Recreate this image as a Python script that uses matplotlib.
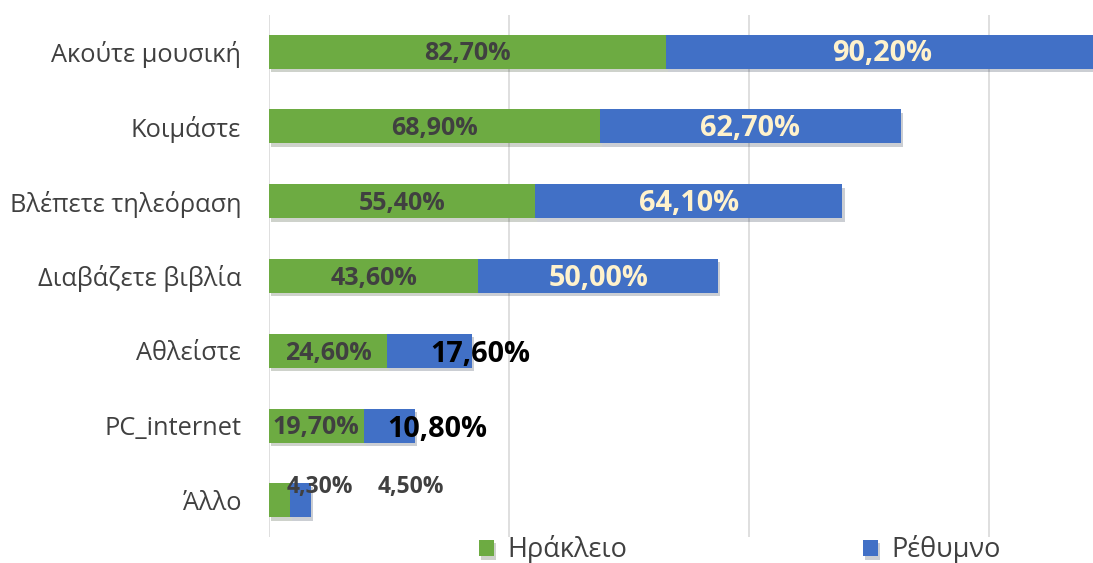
import matplotlib.pyplot as plt
import matplotlib.patheffects as pe
import numpy as np

categories = ["Ακούτε μουσική", "Κοιμάστε", "Βλέπετε τηλεόραση", "Διαβάζετε βιβλία",
              "Αθλείστε", "PC_internet", "Άλλο"]
heraklion = [82.7, 68.9, 55.4, 43.6, 24.6, 19.7, 4.3]
rethymno = [90.2, 62.7, 64.1, 50.0, 17.6, 10.8, 4.5]
series_names = ["Ηράκλειο", "Ρέθυμνο"]


def fmt(v):
    return f"{v:.2f}%".replace(".", ",")


green = "#6dab42"
blue = "#4170c6"
lab_font = "Open Sans"

fig = plt.figure(figsize=(10.93, 5.63), dpi=100)
ax = fig.add_axes([269 / 1093, 26 / 563, 824 / 1093, 522 / 563])

y = np.arange(len(categories))
shadow = [pe.SimplePatchShadow(offset=(1.5, -2.5), alpha=0.22), pe.Normal()]

b1 = ax.barh(y, heraklion, height=0.454, color=green, label=series_names[0],
             zorder=3, path_effects=shadow)
b2 = ax.barh(y, rethymno, left=heraklion, height=0.454, color=blue,
             label=series_names[1], zorder=3, path_effects=shadow)

ax.set_xlim(0, 171.7)
ax.set_ylim(6.49, -0.49)
ax.set_xticks([0, 50, 100, 150])
ax.set_xticklabels([])
ax.xaxis.grid(True, color="#d9d9d9", linewidth=1.2, zorder=0)
ax.tick_params(length=0, pad=20)
ax.set_yticks(y)
ax.set_yticklabels(categories, fontsize=18.3, color="#404040", family="Open Sans")
for s in ax.spines.values():
    s.set_visible(False)

# labels
for i, (h, r) in enumerate(zip(heraklion, rethymno)):
    if i == 6:
        ax.text(h / 2 + 8.4, i - 0.18, fmt(h), ha="center", va="center",
                fontsize=16.5, fontweight="bold", color="#404040", family=lab_font, zorder=5)
        ax.text(h + r / 2 + 23, i - 0.18, fmt(r), ha="center", va="center",
                fontsize=16.5, fontweight="bold", color="#404040", family=lab_font, zorder=5)
        continue
    ax.text(h / 2, i + 0.03, fmt(h), ha="center", va="center", fontsize=18,
            fontweight="bold", color="#404040", family=lab_font, zorder=5)
    if i < 4:
        ax.text(h + r / 2, i + 0.03, fmt(r), ha="center", va="center", fontsize=20.8,
                fontweight="bold", color="#fff2cc", family=lab_font, zorder=5)
    else:
        shift = 10.6 if i == 4 else 9.9
        ax.text(h + r / 2 + shift, i + 0.05, fmt(r), ha="center", va="center", fontsize=20.8,
                fontweight="bold", color="black", family=lab_font, zorder=5)

fig.legend(handles=[b1, b2], labels=series_names, loc="center",
           bbox_to_anchor=(740 / 1093, 1 - 550 / 563), ncol=2, frameon=False,
           prop={"family": "Open Sans", "size": 19.5}, labelcolor="#404040",
           columnspacing=8.7, handlelength=0.55, handleheight=0.55, handletextpad=0.5)

fig.savefig("out.png", dpi=100)
